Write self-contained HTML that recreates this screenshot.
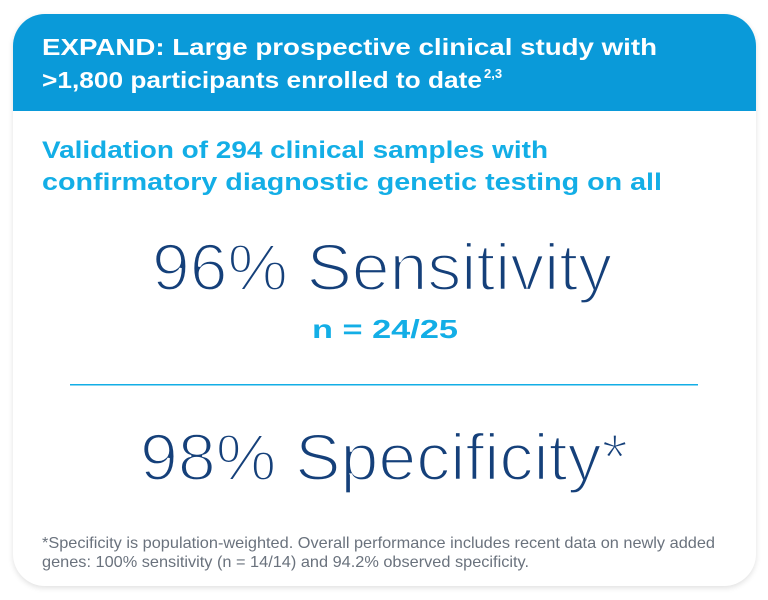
<!DOCTYPE html>
<html><head><meta charset="utf-8"><style>
html,body{margin:0;padding:0;background:#fff;}
svg{display:block;font-family:"Liberation Sans",Arial,sans-serif;}
</style></head><body>
<svg width="768" height="600" viewBox="0 0 768 600" xmlns="http://www.w3.org/2000/svg">
<defs>
<filter id="sh" x="-5%" y="-5%" width="110%" height="110%"><feGaussianBlur stdDeviation="3"/></filter>
<clipPath id="cc"><rect x="13" y="14" width="743" height="572" rx="32"/></clipPath>
</defs>
<rect x="13" y="16" width="743" height="572" rx="32" fill="#000" opacity="0.12" filter="url(#sh)"/>
<rect x="13" y="14" width="743" height="572" rx="32" fill="#fff"/>
<rect x="13" y="14" width="743" height="97" fill="#0a9ad9" clip-path="url(#cc)"/>
<g fill="#fff" font-weight="bold" font-size="23">
<text x="42" y="55" textLength="615" lengthAdjust="spacingAndGlyphs">EXPAND: Large prospective clinical study with</text>
<text x="42" y="88" textLength="440" lengthAdjust="spacingAndGlyphs">&gt;1,800 participants enrolled to date</text>
<text x="484" y="78" font-size="13">2,3</text>
</g>
<g fill="#13aee6" font-weight="bold" font-size="24">
<text x="42" y="158" textLength="506" lengthAdjust="spacingAndGlyphs">Validation of 294 clinical samples with</text>
<text x="42" y="190" textLength="620" lengthAdjust="spacingAndGlyphs">confirmatory diagnostic genetic testing on all</text>
</g>
<g fill="#15407a" font-size="66" stroke="#fff" stroke-width="2.2">
<text x="152" y="290" textLength="460" lengthAdjust="spacingAndGlyphs">96% Sensitivity</text>
<text x="140" y="480" textLength="488" lengthAdjust="spacingAndGlyphs">98% Specificity*</text>
</g>
<text x="312" y="338" fill="#13aee6" font-weight="bold" font-size="26" textLength="146" lengthAdjust="spacingAndGlyphs">n = 24/25</text>
<rect x="70" y="384" width="628" height="1.5" fill="#13aee6"/>
<g fill="#6a727d" font-size="16">
<text x="42" y="548" textLength="673" lengthAdjust="spacingAndGlyphs">*Specificity is population-weighted. Overall performance includes recent data on newly added</text>
<text x="42" y="567" textLength="487" lengthAdjust="spacingAndGlyphs">genes: 100% sensitivity (n = 14/14) and 94.2% observed specificity.</text>
</g>
</svg>
</body></html>
